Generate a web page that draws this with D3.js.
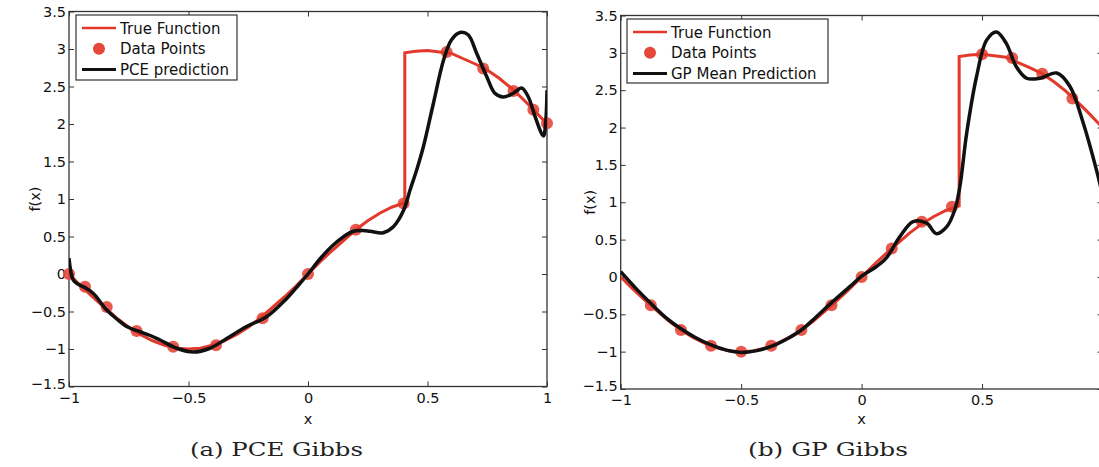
<!DOCTYPE html>
<html lang="en">
  <head>
    <meta charset="utf-8">
    <title>PCE Gibbs vs GP Gibbs</title>
    <script src="https://cdn.jsdelivr.net/npm/d3@7"></script>
    <style type="text/css">
      body { margin: 0; background: #fff; }
      .axis text { font-family: "DejaVu Sans", sans-serif; font-size: 14.5px; fill: #111; }
      .axis line { stroke: #333; stroke-width: 1; }
      .axis path { display: none; }
      .lbl { font-family: "DejaVu Sans", sans-serif; font-size: 14.5px; fill: #111; }
      .leg { font-family: "DejaVu Sans", sans-serif; font-size: 15px; fill: #111; }
      .caption { font-family: "DejaVu Serif", "Liberation Serif", serif; font-size: 19px; fill: #222; }
    </style>
  </head>
  <body>
    <script type="text/javascript">
      var w = 1099, h = 467;

      // true function (same in both panels), jump near x = 0.405
      var trueX = [-1, -0.95, -0.9, -0.85, -0.8, -0.75, -0.7, -0.65, -0.6, -0.55, -0.5, -0.45, -0.4, -0.35, -0.3, -0.25, -0.2, -0.15, -0.1, -0.05,
                   0, 0.05, 0.1, 0.15, 0.2, 0.25, 0.3, 0.35, 0.405, 0.405, 0.45, 0.5, 0.55, 0.6, 0.65, 0.7, 0.75, 0.8, 0.85, 0.9, 0.95, 1];
      var trueY = [0, -0.16, -0.31, -0.45, -0.59, -0.71, -0.81, -0.89, -0.95, -0.99, -1.0, -0.99, -0.95, -0.89, -0.81, -0.71, -0.59, -0.45, -0.31, -0.16,
                   0, 0.16, 0.31, 0.45, 0.59, 0.71, 0.81, 0.89, 0.95, 2.95, 2.97, 2.98, 2.96, 2.94, 2.87, 2.80, 2.72, 2.61, 2.48, 2.33, 2.17, 2.0];

      // (a) PCE Gibbs
      var pceDataX = [-1, -0.933, -0.842, -0.717, -0.564, -0.385, -0.19, 0.0, 0.2, 0.4, 0.58, 0.733, 0.86, 0.943, 1.0];
      var pceDataY = [0, -0.17, -0.44, -0.76, -0.97, -0.95, -0.59, 0.0, 0.59, 0.94, 2.96, 2.74, 2.44, 2.19, 2.01];
      var pceFitX = [-1, -0.982, -0.96, -0.933, -0.898, -0.842, -0.8, -0.759, -0.703, -0.66, -0.619, -0.549, -0.48, -0.41, -0.34, -0.257, -0.173,
                     -0.09, -0.04, 0, 0.05, 0.1, 0.15, 0.19, 0.23, 0.26, 0.315, 0.357, 0.4, 0.427, 0.455, 0.483, 0.525, 0.567, 0.6, 0.636, 0.67,
                     0.706, 0.748, 0.782, 0.817, 0.859, 0.894, 0.922, 0.95, 0.985, 0.995, 1.0];
      var pceFitY = [0.21, -0.08, -0.14, -0.18, -0.26, -0.48, -0.6, -0.7, -0.77, -0.82, -0.88, -0.99, -1.04, -0.99, -0.86, -0.7, -0.57,
                     -0.33, -0.15, 0.0, 0.2, 0.37, 0.5, 0.57, 0.58, 0.57, 0.55, 0.63, 0.85, 1.12, 1.39, 1.7, 2.28, 2.85, 3.12, 3.22, 3.19,
                     2.94, 2.63, 2.41, 2.36, 2.41, 2.48, 2.36, 2.1, 1.84, 2.05, 2.45];

      // (b) GP Gibbs
      var gpDataX = [-0.875, -0.75, -0.625, -0.5, -0.375, -0.25, -0.125, 0, 0.125, 0.25, 0.375, 0.5, 0.625, 0.75, 0.875];
      var gpDataY = [-0.38, -0.71, -0.92, -1.0, -0.92, -0.71, -0.38, 0.0, 0.38, 0.74, 0.94, 2.98, 2.93, 2.72, 2.39];
      var gpFitX = [-1, -0.935, -0.87, -0.81, -0.751, -0.69, -0.625, -0.56, -0.5, -0.44, -0.375, -0.31, -0.25, -0.19, -0.127, -0.049, 0,
                    0.062, 0.104, 0.159, 0.214, 0.27, 0.31, 0.353, 0.387, 0.408, 0.436, 0.477, 0.519, 0.56, 0.6, 0.643, 0.685, 0.74, 0.81,
                    0.865, 0.92, 0.975, 1.0];
      var gpFitY = [0.07, -0.16, -0.37, -0.55, -0.69, -0.81, -0.91, -0.98, -1.01, -0.99, -0.93, -0.83, -0.71, -0.54, -0.35, -0.13, 0.01,
                    0.14, 0.26, 0.54, 0.74, 0.72, 0.58, 0.67, 0.9, 1.21, 1.92, 2.68, 3.17, 3.28, 3.13, 2.81, 2.66, 2.66, 2.73,
                    2.55, 2.06, 1.43, 1.1];

      var xTicks = [-1, -0.5, 0, 0.5, 1];
      var yTicks = [-1.5, -1, -0.5, 0, 0.5, 1, 1.5, 2, 2.5, 3, 3.5];

      var red = "#e2392b", dotColor = "#e5483a";

      var panels = [
        { id: "a", left: 69, right: 547, top: 11.5, bottom: 386.5, dataX: pceDataX, dataY: pceDataY, fitX: pceFitX, fitY: pceFitY,
          legend: ["True Function", "Data Points", "PCE prediction"], legBox: [76, 15, 161, 65],
          caption: "(a) PCE Gibbs", capX: 190, capLen: 173, ylab: 40 },
        { id: "b", left: 620.7, right: 1102.5, top: 15.5, bottom: 389, dataX: gpDataX, dataY: gpDataY, fitX: gpFitX, fitY: gpFitY,
          legend: ["True Function", "Data Points", "GP Mean Prediction"], legBox: [627, 19, 201, 64],
          caption: "(b) GP Gibbs", capX: 748, capLen: 160, ylab: 595 }
      ];

      var svg = d3.select("body").append("svg")
          .attr("width", w)
          .attr("height", h);

      function zip(xs, ys) {
        return xs.map(function(x, i) { return [x, ys[i]]; });
      }

      var minus = function(d) { return d3.format("")(d).replace("-", "\u2212"); };

      panels.forEach(function(p) {
        var xScale = d3.scaleLinear().domain([-1, 1]).range([p.left, p.right]);
        var yScale = d3.scaleLinear().domain([-1.5, 3.5]).range([p.bottom, p.top]);
        var g = svg.append("g");

        g.append("clipPath").attr("id", "clip" + p.id)
          .append("rect")
          .attr("x", p.left).attr("y", p.top)
          .attr("width", p.right - p.left).attr("height", p.bottom - p.top);

        // only label the x ticks that fit inside the picture
        var shownX = xTicks.filter(function(t) { return xScale(t) < w - 4; });

        // axes with inward ticks on all four sides
        g.append("g").attr("class", "axis")
          .attr("transform", "translate(0," + p.bottom + ")")
          .call(d3.axisBottom(xScale).tickValues(shownX).tickFormat(minus).tickSizeInner(-5).tickSizeOuter(0).tickPadding(6));
        g.append("g").attr("class", "axis")
          .attr("transform", "translate(0," + p.top + ")")
          .call(d3.axisTop(xScale).tickValues(xTicks).tickFormat("").tickSizeInner(-5).tickSizeOuter(0));
        var yAx = g.append("g").attr("class", "axis")
          .attr("transform", "translate(" + p.left + ",0)")
          .call(d3.axisLeft(yScale).tickValues(yTicks).tickFormat(minus).tickSizeInner(-5).tickSizeOuter(0).tickPadding(3));
        // lowest label sits a little higher, as in the original
        yAx.selectAll(".tick text").filter(function(d) { return d === -1.5; }).attr("dy", "0.12em");
        g.append("g").attr("class", "axis")
          .attr("transform", "translate(" + p.right + ",0)")
          .call(d3.axisRight(yScale).tickValues(yTicks).tickFormat("").tickSizeInner(-5).tickSizeOuter(0));

        g.append("rect")
          .attr("x", p.left).attr("y", p.top)
          .attr("width", p.right - p.left).attr("height", p.bottom - p.top)
          .attr("fill", "none").attr("stroke", "#333").attr("stroke-width", 1.3);

        g.selectAll("circle.pt")
          .data(zip(p.dataX, p.dataY))
          .enter().append("circle")
          .attr("class", "pt")
          .attr("cx", function(d) { return xScale(d[0]); })
          .attr("cy", function(d) { return yScale(d[1]); })
          .attr("r", 6)
          .attr("fill", dotColor)
          .attr("opacity", 0.9);

        var plot = g.append("g").attr("clip-path", "url(#clip" + p.id + ")");

        var lin = d3.line()
          .x(function(d) { return xScale(d[0]); })
          .y(function(d) { return yScale(d[1]); });

        plot.append("path")
          .datum(zip(trueX, trueY))
          .attr("fill", "none").attr("stroke", red).attr("stroke-width", 3)
          .attr("d", lin);

        plot.append("path")
          .datum(zip(p.fitX, p.fitY))
          .attr("fill", "none").attr("stroke", "#111").attr("stroke-width", 3.5)
          .attr("stroke-linejoin", "round")
          .attr("d", lin.curve(d3.curveCatmullRom.alpha(0.5)));

        // axis labels
        g.append("text").attr("class", "lbl")
          .attr("x", xScale(0)).attr("y", 424)
          .attr("text-anchor", "middle").text("x");
        g.append("text").attr("class", "lbl")
          .attr("transform", "translate(" + p.ylab + "," + ((p.top + p.bottom) / 2) + ") rotate(-90)")
          .attr("text-anchor", "middle").text("f(x)");

        // legend
        var lb = p.legBox;
        var leg = g.append("g");
        leg.append("rect")
          .attr("x", lb[0]).attr("y", lb[1]).attr("width", lb[2]).attr("height", lb[3])
          .attr("fill", "#fff").attr("stroke", "#333").attr("stroke-width", 1.2);
        p.legend.forEach(function(t, i) {
          var cy = lb[1] + 13 + i * 20.8;
          if (i === 1) {
            leg.append("circle").attr("cx", lb[0] + 23).attr("cy", cy).attr("r", 6).attr("fill", dotColor);
          } else {
            leg.append("line")
              .attr("x1", lb[0] + 6).attr("x2", lb[0] + 40).attr("y1", cy).attr("y2", cy)
              .attr("stroke", i === 0 ? red : "#111").attr("stroke-width", i === 0 ? 2.5 : 3);
          }
          leg.append("text").attr("class", "leg")
            .attr("x", lb[0] + 44).attr("y", cy + 5.5).text(t);
        });

        g.append("text").attr("class", "caption")
          .attr("x", p.capX).attr("y", 456)
          .attr("textLength", p.capLen)
          .attr("lengthAdjust", "spacingAndGlyphs")
          .text(p.caption);
      });
    </script>
  </body>
</html>
